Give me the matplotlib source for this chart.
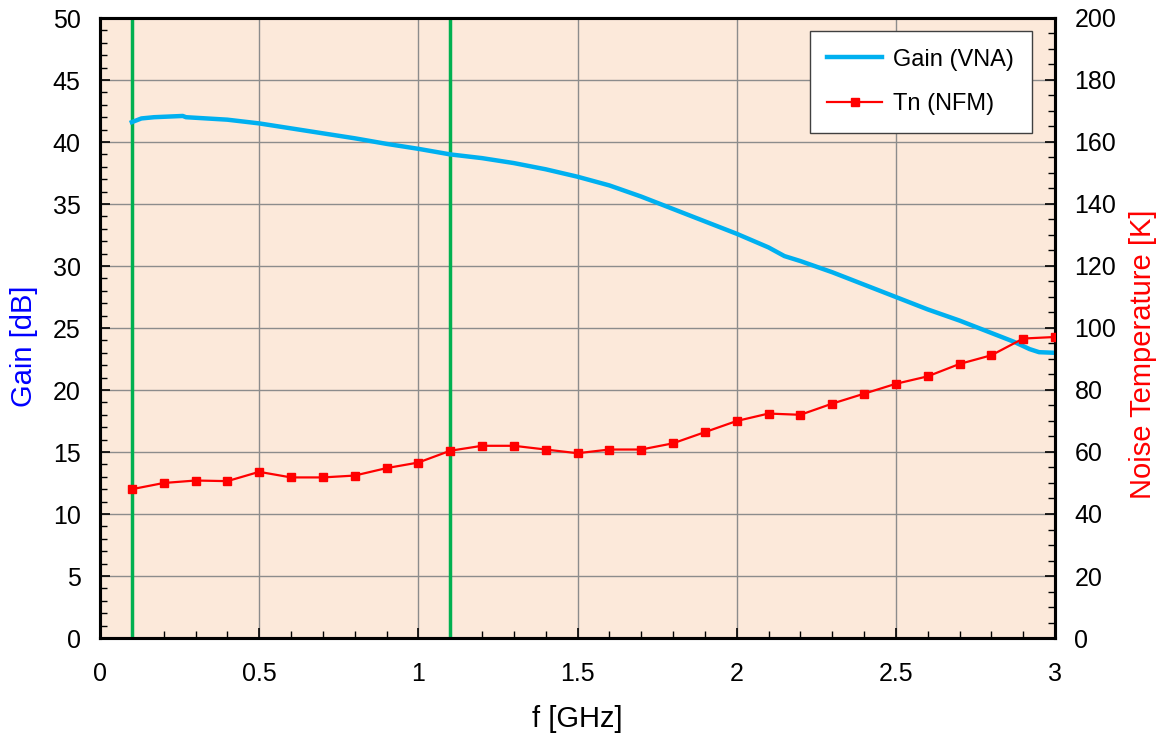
import numpy as np
import matplotlib.pyplot as plt
from matplotlib.ticker import MultipleLocator

plt.rcParams['font.family'] = ['Liberation Sans', 'DejaVu Sans']

# Gain measured with VNA (dB)
f_gain = [0.10, 0.13, 0.17, 0.26, 0.27, 0.40, 0.50, 0.60, 0.70, 0.80, 0.90, 1.00,
          1.10, 1.20, 1.30, 1.40, 1.50, 1.60, 1.70, 1.80, 1.90, 2.00, 2.10, 2.15,
          2.20, 2.30, 2.40, 2.50, 2.60, 2.70, 2.80, 2.87, 2.92, 2.95, 3.00]
gain = [41.6, 41.9, 42.0, 42.1, 42.0, 41.8, 41.5, 41.1, 40.7, 40.3, 39.85, 39.45,
        39.0, 38.7, 38.3, 37.8, 37.2, 36.5, 35.6, 34.6, 33.6, 32.6, 31.5, 30.8,
        30.4, 29.5, 28.5, 27.5, 26.5, 25.6, 24.6, 23.9, 23.3, 23.05, 23.0]

# Noise temperature measured with NFM (K)
f_tn = [0.1, 0.2, 0.3, 0.4, 0.5, 0.6, 0.7, 0.8, 0.9, 1.0, 1.1, 1.2, 1.3, 1.4, 1.5,
        1.6, 1.7, 1.8, 1.9, 2.0, 2.1, 2.2, 2.3, 2.4, 2.5, 2.6, 2.7, 2.8, 2.9, 3.0]
tn = [48.0, 50.0, 50.8, 50.6, 53.6, 51.8, 51.8, 52.4, 54.8, 56.6, 60.4, 62.0, 62.0,
      60.8, 59.6, 60.8, 60.8, 62.8, 66.4, 70.0, 72.4, 72.0, 75.6, 78.8, 82.0, 84.4,
      88.4, 91.2, 96.6, 97.1]

band_edges = [0.1, 1.1]

fig = plt.figure(figsize=(11.67, 7.4), dpi=100)
ax = fig.add_axes([100 / 1167, 1 - 638 / 740, 955 / 1167, 620 / 740])
ax2 = ax.twinx()

ax.set_facecolor('#FCE9DA')
ax.grid(True, which='major', color='#8c8c8c', linewidth=1.0)
ax.set_axisbelow(True)

for x in band_edges:
    ax.axvline(x, color='#00B050', linewidth=2.5, zorder=3)

l1, = ax.plot(f_gain, gain, color='#00B0F0', linewidth=3.2, label='Gain (VNA)', zorder=4)
l2, = ax2.plot(f_tn, tn, color='#FF0000', linewidth=1.6, marker='s', markersize=6,
               label='Tn (NFM)', zorder=5)

ax.set_xlim(0, 3)
ax.set_ylim(0, 50)
ax2.set_ylim(0, 200)

ax.xaxis.set_major_locator(MultipleLocator(0.5))
ax.xaxis.set_minor_locator(MultipleLocator(0.1))
ax.yaxis.set_major_locator(MultipleLocator(5))
ax.yaxis.set_minor_locator(MultipleLocator(1))
ax2.yaxis.set_major_locator(MultipleLocator(20))
ax2.yaxis.set_minor_locator(MultipleLocator(5))

ax.set_xticks([0, 0.5, 1, 1.5, 2, 2.5, 3])
ax.set_xticklabels(['0', '0.5', '1', '1.5', '2', '2.5', '3'])

for a in (ax, ax2):
    a.tick_params(which='major', direction='in', length=7, width=1.2, labelsize=18, pad=14)
    a.tick_params(which='minor', direction='in', length=5, width=1.0)
    for s in a.spines.values():
        s.set_linewidth(2.2)
ax.tick_params(axis='y', which='both', right=False)
ax.tick_params(axis='x', which='both', top=False, pad=17)

ax.set_xlabel('f [GHz]', fontsize=21, labelpad=14)
ax.set_ylabel('Gain [dB]', fontsize=21, color='#0000FF')
ax2.set_ylabel('Noise Temperature [K]', fontsize=21, color='#FF0000')
ax.yaxis.set_label_coords(-0.065, 0.47)
ax2.yaxis.set_label_coords(1.077, 0.458)

leg = ax2.legend(handles=[l1, l2], loc='upper right', bbox_to_anchor=(0.976, 0.979),
                 borderaxespad=0, fontsize=17, frameon=True, fancybox=False,
                 edgecolor='#404040', framealpha=1, borderpad=0.75, labelspacing=0.95,
                 handlelength=2.3, handletextpad=0.5)
leg.get_frame().set_linewidth(1.0)

fig.savefig('out.png', dpi=100)
